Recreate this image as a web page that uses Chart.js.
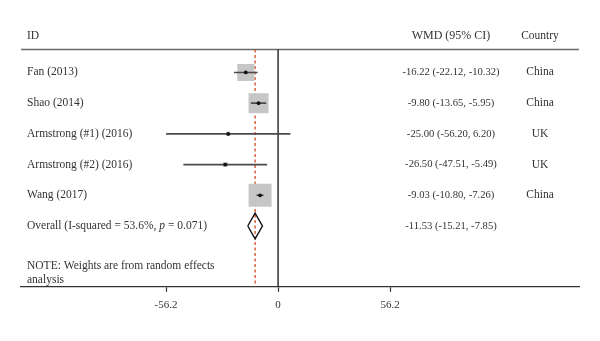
<!DOCTYPE html>
<html>
<head>
<meta charset="utf-8">
<script src="https://cdn.jsdelivr.net/npm/chart.js@4"></script>
<style>
  html, body { margin: 0; padding: 0; background: #fff; }
  #wrap { width: 600px; height: 341px; }
</style>
</head>
<body>
<div id="wrap"><canvas id="myChart" width="600" height="341"></canvas></div>
<script>
// study data
var studies = ['Fan (2013)', 'Shao (2014)', 'Armstrong (#1) (2016)', 'Armstrong (#2) (2016)', 'Wang (2017)'];
var wmd = [-16.22, -9.80, -25.00, -26.50, -9.03];
var lower = [-22.12, -13.65, -56.20, -47.51, -10.80];
var upper = [-10.32, -5.95, 6.20, -5.49, -7.26];
var weights = [23.0, 31.8, 1.3, 2.0, 42.0];
var countries = ['China', 'China', 'UK', 'UK', 'China'];
var overall = [-11.53, -15.21, -7.85];          // estimate, lower, upper
var overallLabel = ['Overall (I-squared = 53.6%, ', 'p', ' = 0.071)'];
var noteLines = ['NOTE: Weights are from random effects', 'analysis'];
var xTicks = [-56.2, 0, 56.2];

var textColor = '#333';
var family = '"Liberation Serif", "DejaVu Serif", serif';
var font = '11.5px ' + family;
var numFont = '10.6px ' + family;
var overallRow = studies.length + 1;

function fmt(v) { return v.toFixed(2) }

var datasets = []

// black dots
datasets.push({
    data: wmd.map(function(v, i) { return {x: v, y: i + 1} }),
    pointRadius: 1.9,
    pointBackgroundColor: '#111',
    pointBorderWidth: 0,
    showLine: false,
    order: 0
})

// CI lines, one dataset per study
for (var i = 0; i < studies.length; i++) {
    datasets.push({
        data: [{x: lower[i], y: i + 1}, {x: upper[i], y: i + 1}],
        showLine: true,
        borderColor: '#4a4a4a',
        borderWidth: 1.6,
        pointRadius: 0,
        order: 1
    })
}

// weight boxes (area ~ weight)
datasets.push({
    data: wmd.map(function(v, i) { return {x: v, y: i + 1} }),
    pointStyle: 'rect',
    pointRadius: weights.map(function(w) { return 3.55 * Math.sqrt(w) / 1.4142 }),
    pointBackgroundColor: '#c6c6c6',
    pointBorderWidth: 0,
    showLine: false,
    order: 2
})

// overall diamond
var dh = 0.42
datasets.push({
    data: [
        {x: overall[1], y: overallRow},
        {x: overall[0], y: overallRow - dh},
        {x: overall[2], y: overallRow},
        {x: overall[0], y: overallRow + dh},
        {x: overall[1], y: overallRow}
    ],
    showLine: true,
    borderColor: '#111',
    borderWidth: 1.4,
    pointRadius: 0,
    tension: 0,
    order: 3
})

// overall estimate dashed line
datasets.push({
    data: [{x: overall[0], y: 0.25}, {x: overall[0], y: 7.98}],
    showLine: true,
    borderColor: '#cc4a22',
    borderWidth: 1.3,
    borderDash: [3, 2.5],
    pointRadius: 0,
    order: 4
})

// null line
datasets.push({
    data: [{x: 0, y: 0.25}, {x: 0, y: 7.98}],
    showLine: true,
    borderColor: '#111',
    borderWidth: 1.3,
    pointRadius: 0,
    order: 5
})

var tablePlugin = {
    id: 'table',
    beforeDatasetsDraw: function(chart) {
        var ctx = chart.ctx;
        var yS = chart.scales.y;
        var area = chart.chartArea;
        ctx.save();
        // header rule
        ctx.strokeStyle = '#6a6a6a';
        ctx.lineWidth = 1.6;
        ctx.beginPath();
        ctx.moveTo(area.left, yS.getPixelForValue(0.25));
        ctx.lineTo(area.right, yS.getPixelForValue(0.25));
        ctx.stroke();
        ctx.restore();
    },
    afterDatasetsDraw: function(chart) {
        var ctx = chart.ctx;
        var yS = chart.scales.y;
        var colX = 27, wmdX = 451, countryX = 540;
        ctx.save();
        ctx.fillStyle = textColor;
        ctx.font = font;
        ctx.textBaseline = 'middle';

        var hy = yS.getPixelForValue(-0.2);
        ctx.textAlign = 'left';
        ctx.fillText('ID', colX, hy);
        ctx.textAlign = 'center';
        ctx.font = '12px ' + family;
        ctx.fillText('WMD (95% CI)', wmdX, hy);
        ctx.font = font;
        ctx.fillText('Country', countryX, hy);

        for (var i = 0; i < studies.length; i++) {
            var py = yS.getPixelForValue(i + 1);
            ctx.textAlign = 'left';
            ctx.font = font;
            ctx.fillText(studies[i], colX, py);
            ctx.textAlign = 'center';
            ctx.fillText(countries[i], countryX, py);
            ctx.font = numFont;
            ctx.fillText(fmt(wmd[i]) + ' (' + fmt(lower[i]) + ', ' + fmt(upper[i]) + ')', wmdX, py);
        }

        // overall row, with italic p
        var oy = yS.getPixelForValue(overallRow);
        ctx.textAlign = 'left';
        ctx.font = font;
        var x = colX;
        ctx.fillText(overallLabel[0], x, oy);
        x += ctx.measureText(overallLabel[0]).width;
        ctx.font = 'italic ' + font;
        ctx.fillText(overallLabel[1], x, oy);
        x += ctx.measureText(overallLabel[1]).width;
        ctx.font = font;
        ctx.fillText(overallLabel[2], x, oy);
        ctx.textAlign = 'center';
        ctx.font = numFont;
        ctx.fillText(fmt(overall[0]) + ' (' + fmt(overall[1]) + ', ' + fmt(overall[2]) + ')', wmdX, oy);

        ctx.font = font;
        ctx.textAlign = 'left';
        ctx.fillText(noteLines[0], colX, yS.getPixelForValue(7.3));
        ctx.fillText(noteLines[1], colX, yS.getPixelForValue(7.76));
        ctx.restore();
    }
};

var ctx = document.getElementById('myChart').getContext('2d');
var chart = new Chart(ctx, {
    type: 'scatter',
    data: { datasets: datasets },
    options: {
        responsive: false,
        animation: false,
        layout: { padding: { left: 21, right: 21, top: 4, bottom: 22 } },
        plugins: { legend: { display: false }, tooltip: { enabled: false } },
        scales: {
            x: {
                type: 'linear',
                min: -129,
                max: 151,
                afterBuildTicks: function(axis) {
                    axis.ticks = xTicks.map(function(v) { return {value: v} });
                },
                ticks: {
                    callback: function(v) { return String(v) },
                    color: textColor,
                    font: { family: '"Liberation Serif", serif', size: 11 },
                    padding: 7,
                    maxRotation: 0,
                    autoSkip: false
                },
                grid: { drawOnChartArea: false, drawTicks: true, tickLength: 5, color: '#333', tickWidth: 1.2 },
                border: { display: true, color: '#333', width: 1.3 }
            },
            y: {
                type: 'linear',
                reverse: true,
                min: -0.83,
                max: 7.98,
                display: false
            }
        }
    },
    plugins: [tablePlugin]
});
</script>
</body>
</html>
